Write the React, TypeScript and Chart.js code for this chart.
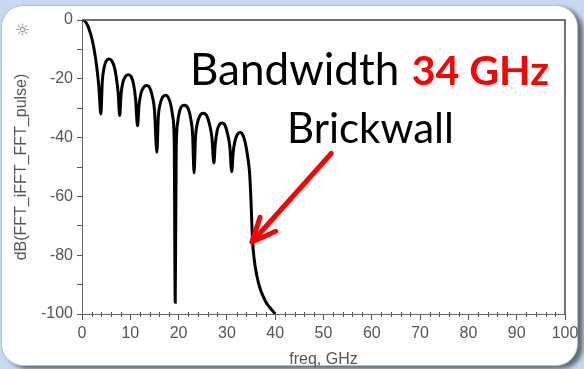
import React, { useEffect, useRef } from "react";
import { Chart, registerables } from "chart.js";

Chart.register(...registerables);

// Spectrum trace
const freqGHz = [
  0, 0.4, 0.8, 1.2, 1.6, 2.0, 2.4, 2.8, 3.2, 3.5, 3.9,
  4.2, 4.6, 5.0, 5.6, 6.2, 6.7, 7.1, 7.5, 7.8,
  8.1, 8.5, 9.0, 9.6, 10.2, 10.7, 11.1, 11.5,
  11.8, 12.2, 12.8, 13.4, 14.0, 14.5, 15.0, 15.5,
  15.8, 16.2, 16.7, 17.3, 17.9, 18.4, 18.8, 19.1, 19.3,
  19.5, 19.8, 20.3, 21.2, 22.0, 22.5, 22.9, 23.2,
  23.5, 23.9, 24.5, 25.1, 25.8, 26.4, 26.9, 27.3,
  27.6, 28.0, 28.5, 29.0, 29.6, 30.1, 30.6, 31.0,
  31.3, 31.7, 32.2, 32.8, 33.4, 33.9, 34.3, 34.7, 35.0, 35.3, 35.7,
  36.2, 36.8, 37.5, 38.2, 38.9, 39.5, 40.0,
];
const magnitudeDb = [
  0, -0.2, -0.8, -2, -3.8, -6, -9, -13, -18, -23, -32,
  -21, -16, -14, -13.3, -14, -16, -19.5, -25, -32.5,
  -25, -21, -19.2, -18.6, -19.3, -22, -27, -36,
  -29, -25, -22.8, -22.3, -23, -25.5, -30.5, -45,
  -33, -28.5, -26.2, -25.6, -26.5, -29, -33, -42, -96,
  -45, -35, -30.5, -29, -30.2, -33.5, -39, -52,
  -40, -35, -32.3, -31.7, -32.5, -35.5, -40, -48.6,
  -42, -37.5, -35.5, -35, -35.8, -38.5, -43, -51.6,
  -45, -41, -38.8, -38.3, -39.5, -42.5, -46.5, -52, -62, -74.8, -82,
  -87, -91, -94, -96.3, -97.8, -99, -100,
];

const xMin = 0;
const xMax = 100;
const xMajorStep = 10;
const xMinorStep = 2;
const yMin = -100;
const yMax = 0;
const yTickStep = 10;
const yLabelStep = 20;

const xTitle = "freq, GHz";
const yTitle = "dB(FFT_iFFT_FFT_pulse)";
const noteLine1 = "Bandwidth";
const noteHighlight = "34 GHz";
const noteLine2 = "Brickwall";
// arrow: tail and tip in data units
const arrowTail = { x: 51.6, y: -45.4 };
const arrowTip = { x: 35.2, y: -75.5 };

const W = 584;
const H = 369;

const overlayPlugin = {
  id: "overlay",
  afterDatasetsDraw(chart: any) {
    const { ctx, chartArea, scales } = chart;
    const xs = scales.x;
    ctx.save();
    // frame
    ctx.strokeStyle = "#444";
    ctx.lineWidth = 1.5;
    ctx.beginPath();
    ctx.moveTo(chartArea.left, chartArea.top);
    ctx.lineTo(chartArea.right, chartArea.top);
    ctx.lineTo(chartArea.right, chartArea.bottom);
    ctx.stroke();
    // minor x ticks
    ctx.strokeStyle = "#555";
    ctx.lineWidth = 1;
    for (let v = xMin; v <= xMax; v += xMinorStep) {
      if (v % xMajorStep === 0) continue;
      const px = Math.round(xs.getPixelForValue(v)) + 0.5;
      ctx.beginPath();
      ctx.moveTo(px, chartArea.bottom - 2);
      ctx.lineTo(px, chartArea.bottom + 3);
      ctx.stroke();
    }
    ctx.restore();
  },
  afterDraw(chart: any) {
    const { ctx, scales } = chart;
    const xs = scales.x;
    const ys = scales.y;
    ctx.save();
    // annotation texts
    ctx.textBaseline = "alphabetic";
    ctx.textAlign = "left";
    ctx.fillStyle = "#000";
    ctx.font = "44px Lato";
    ctx.fillText(noteLine1, 190, 85);
    ctx.font = "42px Lato";
    ctx.fillText(noteLine2, 287, 143);
    ctx.textAlign = "right";
    ctx.fillStyle = "#ff0000";
    ctx.font = "bold 41px Lato";
    ctx.fillText(noteHighlight, 549, 85);
    // arrow
    const tx = xs.getPixelForValue(arrowTip.x);
    const ty = ys.getPixelForValue(arrowTip.y);
    const sx = xs.getPixelForValue(arrowTail.x);
    const sy = ys.getPixelForValue(arrowTail.y);
    const ang = Math.atan2(sy - ty, sx - tx);
    const headLen = 26;
    const spread = (24 * Math.PI) / 180;
    ctx.strokeStyle = "#ff0000";
    ctx.lineWidth = 5;
    ctx.lineCap = "round";
    ctx.lineJoin = "round";
    ctx.beginPath();
    ctx.moveTo(sx, sy);
    ctx.lineTo(tx, ty);
    ctx.stroke();
    ctx.beginPath();
    ctx.moveTo(tx + headLen * Math.cos(ang - spread), ty + headLen * Math.sin(ang - spread));
    ctx.lineTo(tx, ty);
    ctx.lineTo(tx + headLen * Math.cos(ang + spread), ty + headLen * Math.sin(ang + spread));
    ctx.stroke();
    ctx.restore();
  },
};

export default function App() {
  const canvasRef = useRef<HTMLCanvasElement | null>(null);

  useEffect(() => {
    const canvas = canvasRef.current;
    if (!canvas) return;
    const points = freqGHz.map((f, i) => ({ x: f, y: magnitudeDb[i] }));
    const tickFont = { family: "'Liberation Sans', Arial, sans-serif", size: 16 };
    const chart = new Chart(canvas, {
      type: "line",
      data: {
        datasets: [
          {
            data: points,
            borderColor: "#000",
            borderWidth: 3,
            pointRadius: 0,
            fill: false,
            cubicInterpolationMode: "monotone",
          },
        ],
      },
      options: {
        animation: false,
        responsive: false,
        devicePixelRatio: 1,
        layout: { padding: { left: 0, top: 20, right: 19, bottom: 0 } },
        plugins: { legend: { display: false }, tooltip: { enabled: false }, title: { display: false } },
        scales: {
          x: {
            type: "linear",
            min: xMin,
            max: xMax,
            afterFit: (s: any) => {
              s.height = 55;
            },
            ticks: {
              stepSize: xMajorStep,
              autoSkip: false,
              maxRotation: 0,
              color: "#555",
              font: tickFont,
              padding: 4,
              callback: (v: any) => String(v),
            },
            grid: { drawOnChartArea: false, drawTicks: true, tickLength: 6, color: "#555" },
            border: { color: "#666", width: 1 },
            title: { display: true, text: xTitle, color: "#555", font: tickFont, padding: { top: 0, bottom: 0 } },
          },
          y: {
            type: "linear",
            min: yMin,
            max: yMax,
            afterFit: (s: any) => {
              s.width = 82;
            },
            ticks: {
              stepSize: yTickStep,
              autoSkip: false,
              color: "#555",
              font: tickFont,
              padding: 4,
              callback: (v: any) => (Number(v) % yLabelStep === 0 ? String(v) : ""),
            },
            grid: { drawOnChartArea: false, drawTicks: true, tickLength: 5, color: "#555" },
            border: { color: "#666", width: 1 },
            title: { display: true, text: yTitle, color: "#555", font: tickFont, padding: { top: 12, bottom: 0 } },
          },
        },
      },
      plugins: [overlayPlugin],
    });
    return () => chart.destroy();
  }, []);

  return (
    <div
      style={{
        position: "fixed",
        left: 0,
        top: 0,
        width: W,
        height: H,
        background: "#c6d9f1",
        overflow: "hidden",
      }}
    >
      <div
        style={{
          position: "absolute",
          left: 1,
          top: 5,
          width: 575,
          height: 359,
          background: "#fff",
          borderRadius: 22,
          border: "1px solid #bdbdbd",
          boxShadow: "5px 3px 4px rgba(0,0,0,0.5)",
        }}
      />
      <span
        style={{
          position: "absolute",
          left: 15,
          top: 21,
          fontSize: 17,
          color: "#888",
          fontFamily: "'DejaVu Sans', sans-serif",
          lineHeight: "18px",
        }}
      >
        ☼
      </span>
      <canvas
        ref={canvasRef}
        width={W}
        height={H}
        style={{ position: "absolute", left: 0, top: 0, width: W, height: H }}
      />
    </div>
  );
}
